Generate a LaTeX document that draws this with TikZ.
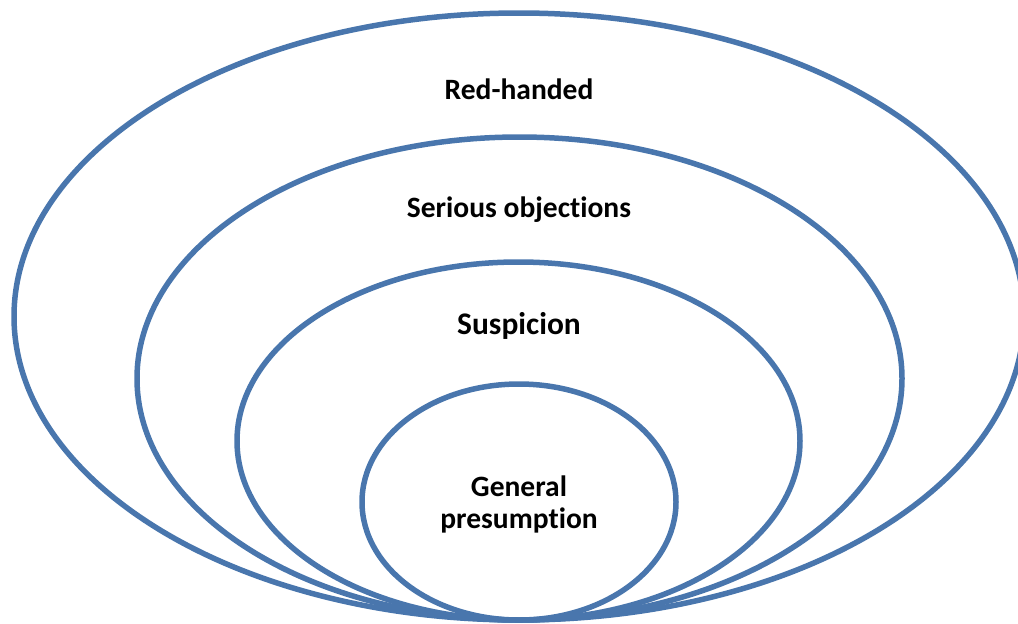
\documentclass[tikz,border=0pt]{standalone}
\usepackage{fontspec}
\setmainfont[Ligatures=NoCommon]{Carlito}
\usetikzlibrary{shapes.geometric}
\definecolor{ringblue}{RGB}{73,118,173}
\begin{document}
\begin{tikzpicture}[x=0.02cm,y=-0.02cm,
  ring/.style={ellipse,draw=ringblue,line width=0.11cm,inner sep=0pt},
  lbl/.style={font=\bfseries\fontsize{16.8}{18.2}\selectfont,align=center,inner sep=0pt}]
  \useasboundingbox (0,0) rectangle (1018,623);
  \clip (0,0) rectangle (1018,623);
  % nested rings, all touching at the bottom
  \node[ring,minimum width=1010*0.02cm,minimum height=607*0.02cm] (outer) at (519,316.5) {};
  \node[ring,minimum width=765*0.02cm,minimum height=483*0.02cm] (second) at (519.5,378.5) {};
  \node[ring,minimum width=563*0.02cm,minimum height=358*0.02cm] (third) at (518.5,441) {};
  \node[ring,minimum width=314*0.02cm,minimum height=236*0.02cm] (inner) at (519,502) {};
  % labels
  \node[lbl] (t1) at (519,89) {Red-handed};
  \node[lbl] (t2) at (519,210) {Serious objections};
  \node[lbl,font=\bfseries\fontsize{17.9}{18.2}\selectfont] (t3) at (519,326) {Suspicion};
  \node[lbl] (t4) at (519,504) {General\\presumption};
\end{tikzpicture}
\end{document}
